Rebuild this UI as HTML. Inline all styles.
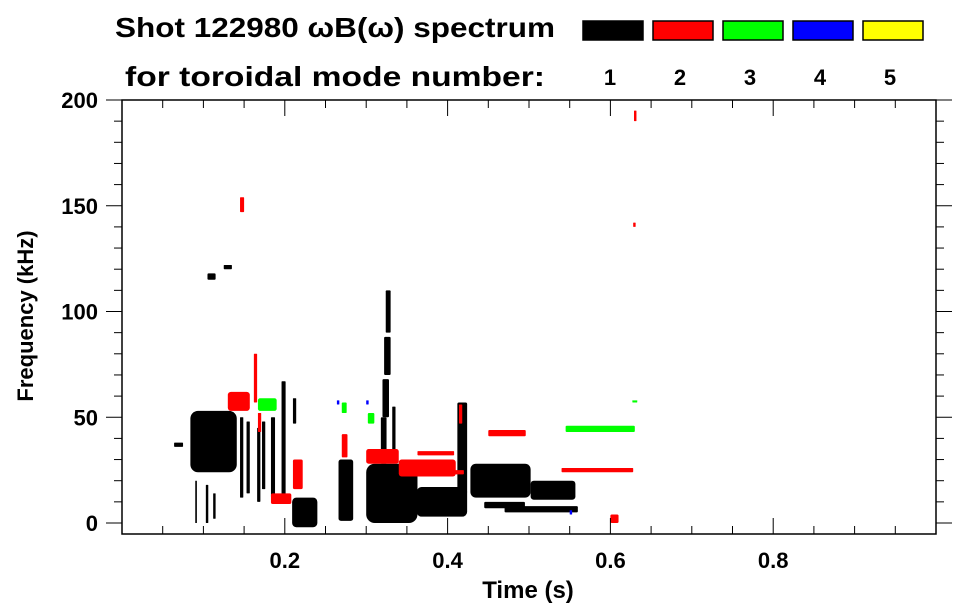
<!DOCTYPE html>
<html><head><meta charset="utf-8"><style>
body{margin:0;background:#fff;}
svg{display:block;font-family:"Liberation Sans",Arial,sans-serif;font-weight:bold;}
</style></head><body>
<svg id="chart" width="963" height="615" viewBox="0 0 963 615" xmlns="http://www.w3.org/2000/svg">
<text x="115" y="37" font-size="28" textLength="440" lengthAdjust="spacingAndGlyphs">Shot 122980 ωB(ω) spectrum</text>
<text x="125" y="86" font-size="28" textLength="420" lengthAdjust="spacingAndGlyphs">for toroidal mode number:</text>
<g id="legend"></g>
<g id="marks"></g>
<g id="axes"></g>
<text x="528" y="598" font-size="24" text-anchor="middle">Time (s)</text>
<text transform="translate(33,316) rotate(-90)" font-size="22" text-anchor="middle">Frequency (kHz)</text>
</svg>
<script>
const modeLabels=["1","2","3","4","5"];
const modeColors=["#000000","#ff0000","#00ff00","#0000ff","#ffff00"];
const xTickValues=[0.2,0.4,0.6,0.8];
const xTickLabels=["0.2","0.4","0.6","0.8"];
const yTickValues=[0,50,100,150,200];
const yTickLabels=["0","50","100","150","200"];
// clusters: mode index, time start, time end, freq low, freq high
const clusterMode=[0,0,0,0,0,0,0,0,0,0,0,0,0,0,0,0,0,0,0,0,0,0,0,0,0,0,0,0,0,0,0,0,
 1,1,1,1,1,1,1,1,1,1,1,1,1,1,1,1,1,
 2,2,2,2,2,
 3,3,3];
const clusterT0=[0.064,0.084,0.095,0.118,0.145,0.153,0.166,0.172,0.183,0.196,0.209,0.210,0.266,0.300,0.312,0.318,0.320,0.322,0.324,0.362,0.412,0.428,0.440,0.502,0.445,0.105,0.125,0.090,0.103,0.112,0.332,0.470,
 0.130,0.145,0.167,0.162,0.270,0.300,0.340,0.380,0.363,0.450,0.540,0.183,0.210,0.414,0.629,0.628,0.600,
 0.167,0.270,0.302,0.545,0.627,
 0.264,0.300,0.550];
const clusterT1=[0.075,0.141,0.135,0.140,0.149,0.157,0.170,0.176,0.188,0.201,0.240,0.214,0.284,0.363,0.355,0.325,0.328,0.330,0.330,0.424,0.424,0.502,0.500,0.557,0.495,0.115,0.135,0.092,0.106,0.115,0.336,0.560,
 0.157,0.150,0.171,0.166,0.277,0.340,0.410,0.420,0.408,0.496,0.628,0.208,0.222,0.418,0.632,0.631,0.610,
 0.190,0.276,0.310,0.630,0.633,
 0.267,0.303,0.553];
const clusterF0=[36,24,28,38,12,14,10,16,12,9,-2,47,1,0,5,28,50,70,90,3,14,12,16,11,7,115,120,0,0,2,30,5,
 53,147,43,57,31,28,22,23,32,41,24,9,16,47,190,140,0,
 53,52,47,43,57,
 56,56,4];
const clusterF1=[38,53,47,50,50,48,45,48,50,67,12,59,30,28,22,50,68,88,110,17,57,28,24,20,10,118,122,20,18,14,55,8,
 62,154,52,80,42,35,30,25,34,44,26,14,30,56,195,142,4,
 59,57,52,46,58,
 58,58,6];
const X0=122,X1=936,Y0=523,PXF=2.115,YB=534,YT=100;
const xs=t=>X0+t*(X1-X0);
const ys=f=>Y0-f*PXF;
const NS="http://www.w3.org/2000/svg";
const mk=(tag,attrs,parent)=>{const e=document.createElementNS(NS,tag);for(const k in attrs)e.setAttribute(k,attrs[k]);parent.appendChild(e);return e;};
// legend
const lg=document.getElementById('legend');
modeLabels.forEach((lab,i)=>{
  const r=mk('rect',{x:583+i*70,y:21,width:60,height:19,fill:modeColors[i],stroke:'#000','stroke-width':1.5},lg);
  
  
  const t=mk('text',{x:610+i*70,y:85,'font-size':22,'text-anchor':'middle'},lg);
  t.textContent=lab;
  
  
});
// marks
const mg=document.getElementById('marks');
clusterMode.forEach((m,i)=>{
  const x=xs(clusterT0[i]),w=Math.max(1.5,xs(clusterT1[i])-x);
  const y=ys(clusterF1[i]),h=Math.max(1.5,ys(clusterF0[i])-y);
  const r=mk('rect',{x:x,y:y,width:w,height:h,rx:Math.min(w,h)/6,fill:modeColors[m]},mg);
  
  
});
// axes
const ax=document.getElementById('axes');
mk('rect',{x:X0,y:YT,width:X1-X0,height:YB-YT,fill:'none',stroke:'#000','stroke-width':1.5},ax);
for(let f=0;f<=200;f+=10){
  const y=ys(f),maj=f%50===0;
  mk('line',{x1:X0-(maj?16:8),x2:X0,y1:y,y2:y,stroke:'#000','stroke-width':1},ax);
  mk('line',{x1:X1,x2:X1+(maj?16:8),y1:y,y2:y,stroke:'#000','stroke-width':1},ax);
}
for(let k=1;k<20;k++){
  const x=xs(k*0.05),maj=k%4===0;
  mk('line',{x1:x,x2:x,y1:YB,y2:YB-(maj?16:8),stroke:'#000','stroke-width':1},ax);
  mk('line',{x1:x,x2:x,y1:YT,y2:YT+(maj?16:8),stroke:'#000','stroke-width':1},ax);
}
xTickValues.forEach((v,i)=>{
  const t=mk('text',{x:xs(v),y:568,'font-size':22,'text-anchor':'middle'},ax);
  t.textContent=xTickLabels[i];
  
  
});
yTickValues.forEach((v,i)=>{
  const t=mk('text',{x:98,y:ys(v)+8,'font-size':22,'text-anchor':'end'},ax);
  t.textContent=yTickLabels[i];
  
  
});
</script>
</body></html>
